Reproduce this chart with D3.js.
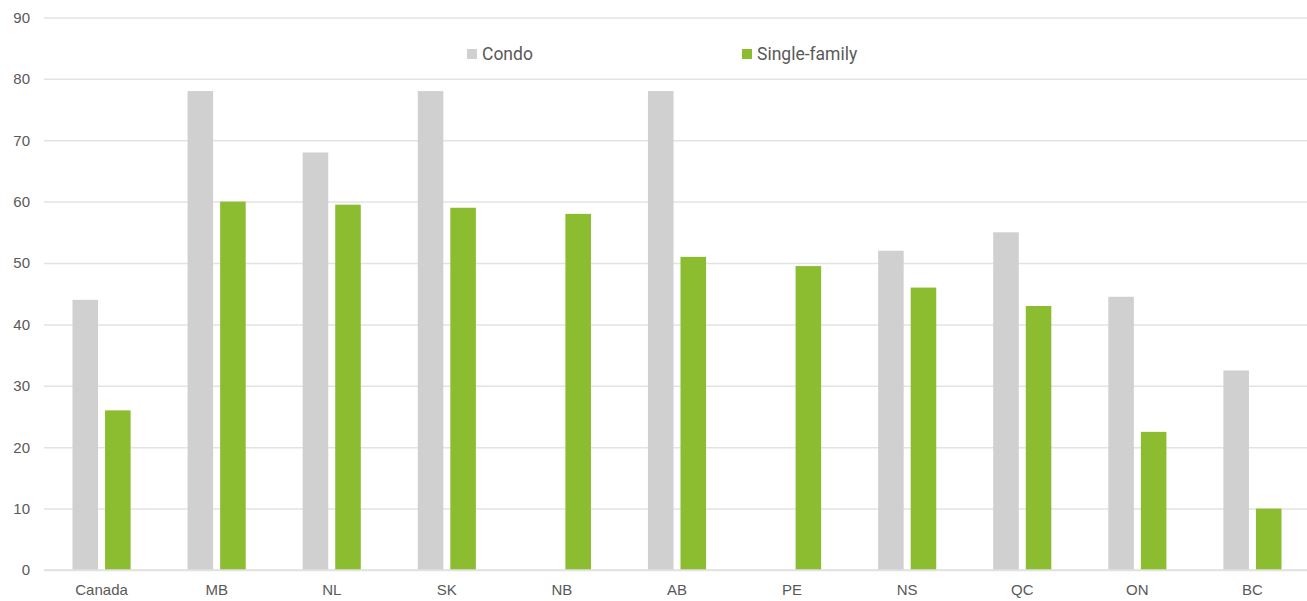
<!DOCTYPE html>
<html>
<head>
<meta charset="utf-8">
<script src="https://cdn.jsdelivr.net/npm/d3@7"></script>
<style>
  body { margin: 0; background: #fff; }
  svg { display: block; font-family: Roboto, "Noto Sans", sans-serif; }
  .tick text { fill: #595959; font-size: 15px; }
</style>
</head>
<body>
<div id="chart"></div>
<script>
// chart data
var categories = ["Canada", "MB", "NL", "SK", "NB", "AB", "PE", "NS", "QC", "ON", "BC"];
var seriesNames = ["Condo", "Single-family"];
var condo = [44, 78, 68, 78, null, 78, null, 52, 55, 44.5, 32.5];
var singleFamily = [26, 60, 59.5, 59, 58, 51, 49.5, 46, 43, 22.5, 10];
var yTicks = [0, 10, 20, 30, 40, 50, 60, 70, 80, 90];
var colors = ["#d0d0d0", "#8cbd31"];

var width = 1307, height = 601;
var margin = { top: 17, right: 0, bottom: 31, left: 44 };

var svg = d3.select("#chart").append("svg")
  .attr("width", width)
  .attr("height", height);

var x0 = d3.scaleBand()
  .domain(categories)
  .range([margin.left, width + 3])
  .paddingInner(0.495)
  .paddingOuter(0.2475);

var x1 = d3.scaleBand()
  .domain(seriesNames)
  .range([0, x0.bandwidth()])
  .paddingInner(0.215);

var y = d3.scaleLinear()
  .domain([0, 90])
  .range([height - margin.bottom, margin.top + 0.4]);

// gridlines + y labels
var yAxis = svg.append("g")
  .attr("transform", "translate(" + margin.left + ",0)")
  .call(d3.axisLeft(y).tickValues(yTicks).tickSize(-(width - margin.left)).tickPadding(14));
yAxis.select(".domain").remove();
yAxis.selectAll(".tick line").attr("stroke", "#e3e3e3").attr("stroke-width", 1.5);

// bars
var rows = categories.map(function(c, i) {
  return { cat: c, values: [condo[i], singleFamily[i]] };
});

var groups = svg.selectAll(".group")
  .data(rows)
  .enter().append("g")
  .attr("class", "group")
  .attr("transform", function(d) { return "translate(" + x0(d.cat) + ",0)"; });

groups.selectAll("rect")
  .data(function(d) {
    return d.values.map(function(v, j) { return { key: seriesNames[j], value: v, j: j }; })
      .filter(function(e) { return e.value != null; });
  })
  .enter().append("rect")
  .attr("x", function(d) { return x1(d.key); })
  .attr("y", function(d) { return y(d.value); })
  .attr("width", x1.bandwidth())
  .attr("height", function(d) { return y(0) - y(d.value); })
  .attr("fill", function(d) { return colors[d.j]; });

// x axis labels
var xAxis = svg.append("g")
  .attr("transform", "translate(0," + y(0) + ")")
  .call(d3.axisBottom(x0).tickSize(0).tickPadding(14));
xAxis.select(".domain").attr("stroke", "#e0e0e0").attr("stroke-width", 1.5)
  .attr("d", "M" + margin.left + ",0H" + width);

// legend
var legendX = [467, 742];
var legend = svg.selectAll(".legend")
  .data(seriesNames)
  .enter().append("g")
  .attr("class", "legend")
  .attr("transform", function(d, i) { return "translate(" + legendX[i] + ",48)"; });

legend.append("rect")
  .attr("width", 10)
  .attr("height", 10)
  .attr("y", 1)
  .attr("fill", function(d, i) { return colors[i]; });

legend.append("text")
  .attr("x", 15)
  .attr("y", 6)
  .attr("dy", "0.35em")
  .attr("fill", "#595959")
  .style("font-size", "17.5px")
  .text(function(d) { return d; });
</script>
</body>
</html>
